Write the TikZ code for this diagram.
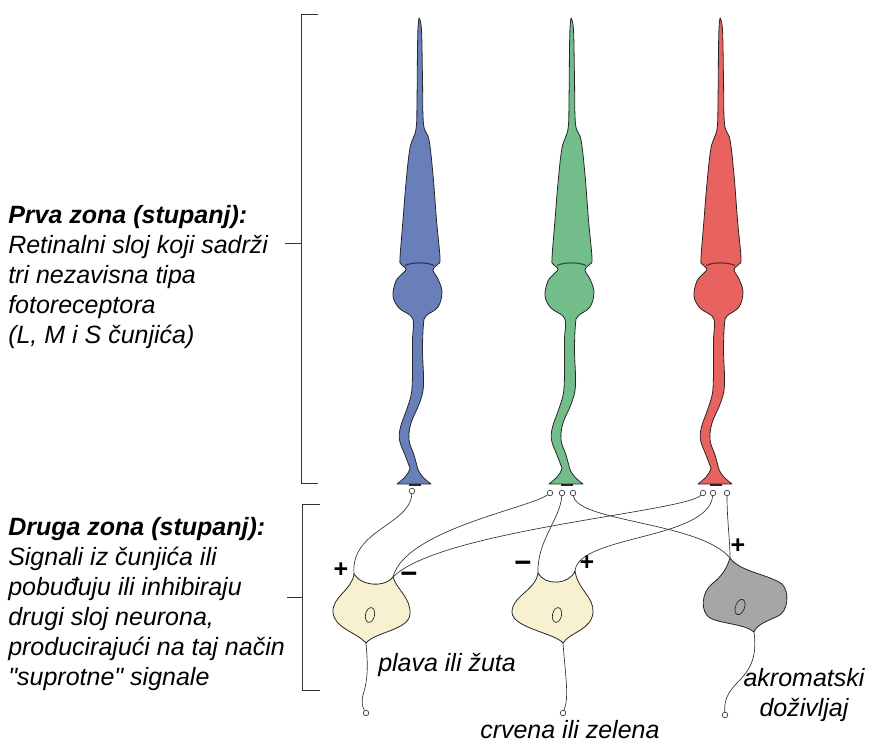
\documentclass[tikz,border=0pt]{standalone}
\usepackage{fontspec}
\setmainfont{Liberation Sans}[Ligatures=TeXOff]
\definecolor{coneblue}{RGB}{105,127,186}
\definecolor{conegreen}{RGB}{115,189,139}
\definecolor{conered}{RGB}{232,99,96}
\definecolor{cellyellow}{RGB}{247,241,210}
\definecolor{cellgray}{RGB}{166,166,166}
\tikzset{
  conebody/.style={draw=black!85, line width=0.6pt, line join=round},
  synapse/.style={circle, draw=black!85, fill=white, line width=0.45pt, inner sep=0pt, minimum size=4.2pt},
  wire/.style={draw=black!80, line width=0.5pt},
  cellbody/.style={draw=black!85, line width=0.6pt},
  sign/.style={font=\bfseries\fontsize{18.75}{18.75}\selectfont, inner sep=0pt},
  minussign/.style={font=\bfseries\fontsize{22}{22}\selectfont, inner sep=0pt},
  zonetext/.style={font=\itshape\fontsize{18.75}{22.5}\selectfont, align=left, inner sep=0pt, anchor=north west},
  celltext/.style={font=\itshape\fontsize{18.75}{22.5}\selectfont, inner sep=0pt},
  bracket/.style={draw=black!80, line width=0.6pt}
}
\begin{document}
\begin{tikzpicture}[x=0.75pt,y=0.75pt,yscale=-1,xscale=1]
\useasboundingbox (0,0) rectangle (870,745);

%Shape: three cones
\foreach \dx/\col in {0/coneblue,152/conegreen,301/conered}{
\begin{scope}[shift={(\dx,0)}]
\path[conebody, fill=\col] plot[smooth, tension=0.6] coordinates {(419,18) (421.5,30) (422.5,80) (423.5,124) (429,140) (433,175) (436.5,220) (440,258) (438,264) (433,270) (438,279) (442,292) (438,307) (426,316) (423.5,324) (422.5,350) (423.5,385) (419.5,403) (411,423) (409,440) (414,455) (417.5,468)}
  .. controls (420,476) and (426,480) .. (431,484)
  -- (397,484)
  .. controls (402,480) and (408,476) .. (410,468)
  -- plot[smooth, tension=0.6] coordinates {(410,468) (405,455) (399.5,440) (400.5,427) (406.5,410) (411.5,393) (412.5,370) (412.5,340) (413.5,324) (411,316) (399,308) (393,296) (396,281) (403,273) (406,269) (401,264) (400,258) (403,220) (406,183) (410,148) (416,129) (417,100) (417.5,50) (418,28) (419,18)}
  -- cycle;
\draw[line width=0.9pt, black!55!\col] (405,265.5) .. controls (412,262) and (427,262) .. (434,265.5);
\draw[line width=1.3pt, black!85] (409,485) -- (421,485);
\end{scope}
}

%Shape: brackets
\draw[bracket] (318,14) -- (301,14) -- (301,483) -- (318,483);
\draw[bracket] (301,243) -- (285,243);
\draw[bracket] (320,504) -- (302,504) -- (302,690) -- (320,690);
\draw[bracket] (302,597) -- (287,597);

%Shape: cells
\path[cellbody, fill=cellyellow] (354,574) .. controls (362,587) and (386,587) .. (393,577)
  .. controls (397,590) and (411,598) .. (410,614) .. controls (409,630) and (375,632) .. (366,643)
  .. controls (356,632) and (334,628) .. (333,612) .. controls (332,597) and (352,590) .. (354,574) -- cycle;
\path[cellbody, fill=cellyellow] (538,573) .. controls (545,586) and (569,585) .. (575,571)
  .. controls (578,590) and (594,597) .. (593,612) .. controls (592,630) and (570,632) .. (563,643)
  .. controls (555,633) and (512,628) .. (512,612) .. controls (512,596) and (536,590) .. (538,573) -- cycle;
\path[cellbody, fill=cellgray] (730,558) .. controls (740,572) and (768,574) .. (782,584)
  .. controls (790,592) and (788,612) .. (778,616) .. controls (768,621) and (757,624) .. (754,632)
  .. controls (745,624) and (722,624) .. (710,618) .. controls (700,612) and (701,592) .. (713,583)
  .. controls (722,576) and (727,568) .. (730,558) -- cycle;
\draw[cellbody, line width=0.5pt] (370,615) ellipse [x radius=4.5, y radius=7.5, rotate=12];
\draw[cellbody, line width=0.5pt] (557,615) ellipse [x radius=4.5, y radius=7.5, rotate=12];
\draw[cellbody, line width=0.5pt] (740,607) ellipse [x radius=4.5, y radius=8, rotate=20];

%Nodes: synapses and inputs
\node[synapse] (b1) at (412,491) {};
\node[synapse] (g1) at (550,493) {};
\node[synapse] (g2) at (562,493) {};
\node[synapse] (g3) at (573,493) {};
\node[synapse] (r1) at (703,493) {};
\node[synapse] (r2) at (713,493) {};
\node[synapse] (r3) at (727,493) {};
\coordinate (n1p) at (354,574);
\coordinate (n1m) at (393,577);
\coordinate (n2m) at (538,573);
\coordinate (n2p) at (575,571);
\coordinate (n3p) at (730,558);
\coordinate (n1b) at (366,643);
\coordinate (n2b) at (563,643);
\coordinate (n3b) at (754,632);
\node[synapse] (o1) at (366,713) {};
\node[synapse] (o2) at (563,713) {};
\node[synapse] (o3) at (725,715) {};

%Wires
\draw[wire] (b1) .. controls (410,525) and (350,530) .. (n1p);
\draw[wire] (g1) .. controls (530,508) and (405,530) .. (n1m);
\draw[wire] (r1) .. controls (685,512) and (440,530) .. (n1m);
\draw[wire] (g2) .. controls (560,520) and (537,540) .. (n2m);
\draw[wire] (r2) .. controls (708,540) and (578,535) .. (n2p);
\draw[wire] (g3) .. controls (578,522) and (700,522) .. (n3p);
\draw[wire] (r3) .. controls (727,520) and (730,540) .. (n3p);
\draw[wire] (n1b) .. controls (368,665) and (368,680) .. (363,695) .. controls (361,703) and (363,708) .. (o1);
\draw[wire] (n2b) .. controls (565,670) and (568,690) .. (566,703) .. controls (565,708) and (564,710) .. (o2);
\draw[wire] (n3b) .. controls (757,655) and (752,668) .. (738,682) .. controls (728,692) and (724,700) .. (o3);

% Text Node
\node[sign] (s1p) at (341,570) {+};
\node[minussign] (s1m) at (409,578) {−};
\node[minussign] (s2m) at (523,567) {−};
\node[sign] (s2p) at (587,563) {+};
\node[sign] (s3p) at (738,546) {+};
% Text Node
\node[zonetext] (zone1) at (8,205) {\textbf{Prva zona (stupanj):}\\Retinalni sloj koji sadrži\\tri nezavisna tipa\\fotoreceptora\\(L, M i S čunjića)};
% Text Node
\node[zonetext] (zone2) at (8,517) {\textbf{Druga zona (stupanj):}\\Signali iz čunjića ili\\pobuđuju ili inhibiraju\\drugi sloj neurona,\\producirajući na taj način\\"suprotne" signale};
% Text Node
\node[celltext, anchor=west] (lbl1) at (378,665) {plava ili žuta};
\node[celltext, anchor=west] (lbl2) at (480,730) {crvena ili zelena};
\node[celltext, align=center] (lbl3) at (804,695) {akromatski\\doživljaj};

\end{tikzpicture}
\end{document}
